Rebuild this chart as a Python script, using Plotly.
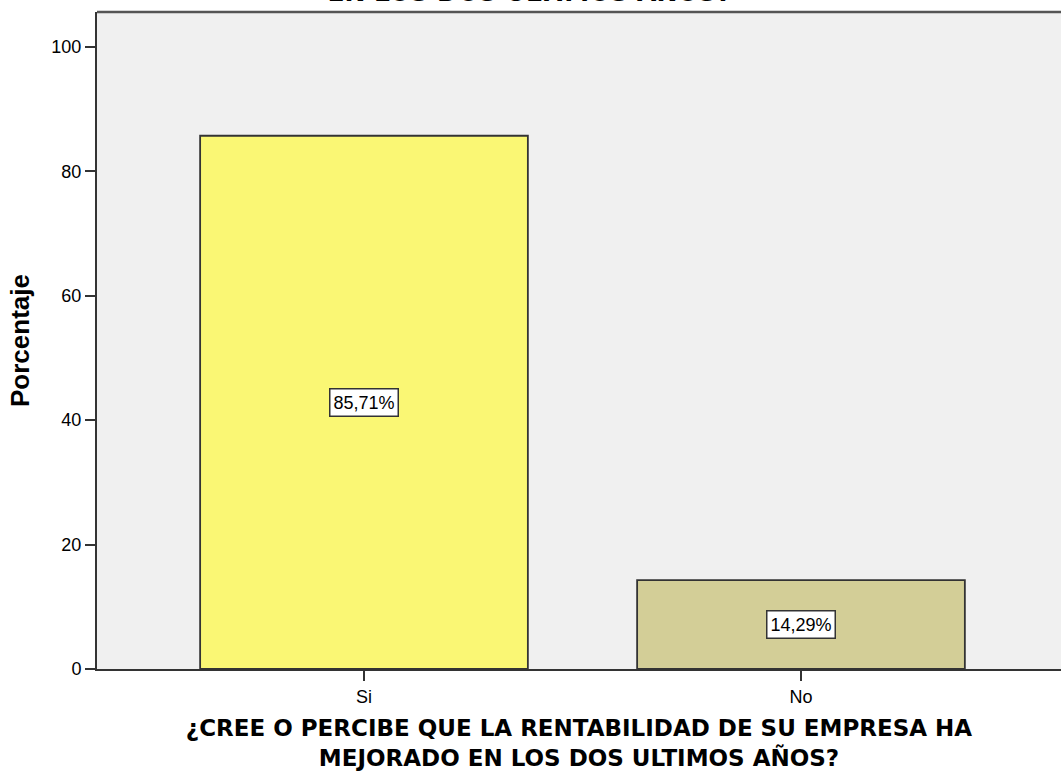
import plotly.graph_objects as go

# Survey answers and their percentages
categories = ["Si", "No"]
percentages = [85.71, 14.29]
bar_colors = ["#FAF774", "#D3CE97"]
value_labels = ["85,71%", "14,29%"]
y_ticks = [0, 20, 40, 60, 80, 100]

title_text = ("¿CREE O PERCIBE QUE LA RENTABILIDAD DE SU EMPRESA HA MEJORADO<br>"
              "EN LOS DOS ULTIMOS AÑOS?")
x_title = "¿CREE O PERCIBE QUE LA RENTABILIDAD DE SU EMPRESA HA<br>MEJORADO EN LOS DOS ULTIMOS AÑOS?"

ARIAL = "Liberation Sans, Arial, sans-serif"
WIDE = "DejaVu Sans, Verdana, sans-serif"

fig = go.Figure()
fig.add_trace(go.Bar(
    x=categories,
    y=percentages,
    width=0.75,
    marker=dict(color=bar_colors, line=dict(color="#333333", width=1.8)),
    hoverinfo="skip",
))

# Boxed value labels at mid-height of each bar
for cat, val, lab in zip(categories, percentages, value_labels):
    fig.add_annotation(
        x=cat, y=val / 2, text=lab, showarrow=False,
        font=dict(family=ARIAL, size=18, color="#000000"),
        bgcolor="#FFFFFF", bordercolor="#333333", borderwidth=1.5, borderpad=3,
    )

# Chart title (sits at the very top of the page)
fig.add_annotation(
    xref="paper", yref="paper", x=0.449, y=1.004, xanchor="center", yanchor="bottom",
    text="<b>" + title_text + "</b>", showarrow=False,
    font=dict(family=WIDE, size=25, color="#000000"),
)

fig.update_layout(
    width=1061, height=771,
    margin=dict(l=97, r=0, t=12, b=102),
    paper_bgcolor="#FFFFFF",
    plot_bgcolor="#F0F0F0",
    showlegend=False,
    font=dict(family=ARIAL, color="#000000"),
    shapes=[dict(type="line", xref="paper", yref="paper", x0=0, x1=1, y0=1, y1=1,
                 line=dict(color="#555555", width=2.5))],
)

fig.update_xaxes(
    range=[-0.611, 1.595],
    showline=True, linecolor="#333333", linewidth=2,
    ticks="outside", ticklen=10, tickcolor="#333333", tickwidth=1.5,
    tickfont=dict(size=18),
    showgrid=False, zeroline=False,
    title=dict(text="<b>" + x_title + "</b>", font=dict(family=WIDE, size=23), standoff=18),
)
fig.update_yaxes(
    range=[0, 105.6],
    tickvals=y_ticks,
    showline=True, linecolor="#333333", linewidth=2,
    ticks="outside", ticklen=10, tickcolor="#333333", tickwidth=1.5,
    tickfont=dict(size=18),
    showgrid=False, zeroline=False,
    title=dict(text="<b>Porcentaje</b>", font=dict(size=26), standoff=14),
)

fig.write_html("out.html")
